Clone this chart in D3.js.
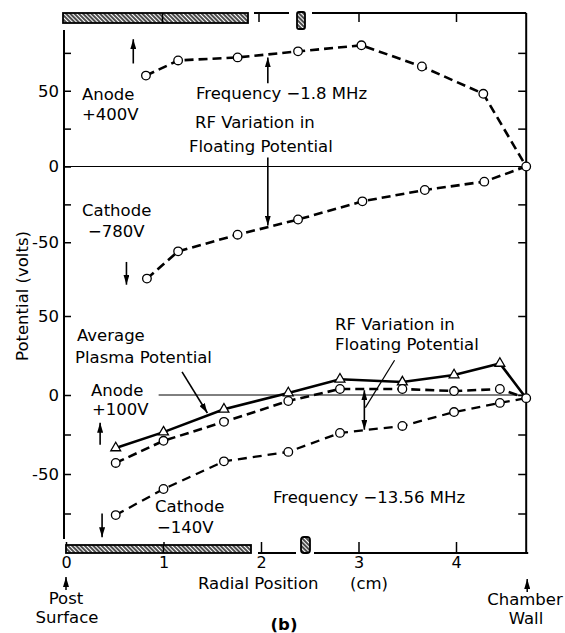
<!DOCTYPE html>
<html>
<head>
<meta charset="utf-8">
<script src="https://cdn.jsdelivr.net/npm/d3@7"></script>
<style>
  body { margin: 0; background: #fff; }
  text { font-family: "DejaVu Sans", sans-serif; font-size: 16.5px; fill: #000; }
</style>
</head>
<body>
<script>
// ---- data ----
// upper panel, 1.8 MHz
const rTopAnode = [0.82, 1.15, 1.76, 2.38, 3.03, 3.65, 4.28, 4.72];
const topAnode = [60, 70, 72, 76, 80, 66, 48, 0];
const rTopCathode = [0.83, 1.15, 1.76, 2.38, 3.04, 3.68, 4.29, 4.72];
const topCathode = [-74, -56, -45, -35, -23, -15.5, -10, 0];

// lower panel, 13.56 MHz
const rBot = [0.51, 1.0, 1.62, 2.28, 2.81, 3.45, 3.98, 4.45, 4.72];
const botPlasma = [-33.5, -23.5, -9, 1.3, 10, 8.2, 12.7, 20, -2];
const botAnode = [-43, -29, -17, -3.8, 3.8, 3.8, 2.5, 3.8, -2];
const botCathode = [-76, -59.5, -42, -36, -24, -19.6, -10.8, -5, -2];

const xTicks = [0, 1, 2, 3, 4];
const topTicks = [75, 50, 25, 0, -25, -50];
const botTicks = [50, 0, -25, -50, -75];
const tickLabels = [50, 0, -50];
const wallR = 4.72;

const W = 565, H = 633;
const svg = d3.select("body").append("svg").attr("width", W).attr("height", H);

const x = d3.scaleLinear().domain([0, 4]).range([66, 456]);
const yTop = d3.scaleLinear().domain([-100, 100]).range([318, 15]);
const yBot = d3.scaleLinear().domain([-100, 50]).range([553, 316]);

const leftX = 64, rightX = x(wallR), topY = 13, botY = 553;

// defs: hatch + arrow heads
const defs = svg.append("defs");
const pat = defs.append("pattern").attr("id", "hatch")
    .attr("patternUnits", "userSpaceOnUse")
    .attr("width", 3).attr("height", 3)
    .attr("patternTransform", "rotate(-45)");
pat.append("rect").attr("width", 3).attr("height", 3).attr("fill", "#fff");
pat.append("line").attr("x1", 1).attr("y1", 0).attr("x2", 1).attr("y2", 3)
    .attr("stroke", "#000").attr("stroke-width", 1.4);

defs.append("marker").attr("id", "head")
    .attr("markerUnits", "userSpaceOnUse")
    .attr("viewBox", "0 0 10 6").attr("refX", 10).attr("refY", 3)
    .attr("markerWidth", 10).attr("markerHeight", 6).attr("orient", "auto-start-reverse")
    .append("path").attr("d", "M0,0 L10,3 L0,6 Z").attr("fill", "#000");

// ---- frame ----
// left axis
svg.append("line").attr("x1", leftX).attr("x2", leftX).attr("y1", 30).attr("y2", 539)
    .attr("stroke", "#000").attr("stroke-width", 2);
// right axis
svg.append("line").attr("x1", rightX).attr("x2", rightX).attr("y1", topY).attr("y2", botY)
    .attr("stroke", "#000").attr("stroke-width", 2);
// top and bottom borders (broken by the small hatched pieces)
[[254, 289, topY], [312, rightX, topY], [258, 296, botY], [314, rightX + 2, botY]].forEach(s => {
  svg.append("line").attr("x1", s[0]).attr("x2", s[1]).attr("y1", s[2]).attr("y2", s[2])
      .attr("stroke", "#000").attr("stroke-width", 1.8);
});

// y ticks
function yTicks(scale, vals) {
  const gl = svg.append("g").attr("transform", `translate(${leftX},0)`)
      .call(d3.axisLeft(scale).tickValues(vals).tickSize(-7).tickPadding(5)
          .tickFormat(d => tickLabels.includes(d) ? String(d) : ""));
  gl.select(".domain").remove();
  gl.selectAll("line").attr("stroke-width", 1.5);
  gl.attr("font-family", null).attr("font-size", null);
  const gr = svg.append("g").attr("transform", `translate(${rightX},0)`)
      .call(d3.axisRight(scale).tickValues(vals).tickSize(-8).tickFormat(""));
  gr.select(".domain").remove();
  gr.selectAll("line").attr("stroke-width", 1.5);
}
yTicks(yTop, topTicks);
yTicks(yBot, botTicks);

// x ticks (bottom, pointing up) and labels
const gx = svg.append("g").attr("transform", `translate(0,${botY})`)
    .call(d3.axisBottom(x).tickValues(xTicks).tickSize(-11).tickPadding(4).tickFormat(d3.format("d")));
gx.select(".domain").remove();
gx.selectAll("line").attr("stroke-width", 1.5);
gx.attr("font-family", null).attr("font-size", null);
gx.selectAll("text").style("font-size", "16px");

// top ticks (pointing down)
const gt = svg.append("g").attr("transform", `translate(0,${topY})`)
    .call(d3.axisTop(x).tickValues([2, 3, 4]).tickSize(-9).tickFormat(""));
gt.select(".domain").remove();
gt.selectAll("line").attr("stroke-width", 1.5);
gt.select(".tick").attr("transform", "translate(259,0)");

// hatched bars (post insulation)
function hatchRect(x0, y0, w, h, rx) {
  svg.append("rect").attr("x", x0).attr("y", y0).attr("width", w).attr("height", h)
      .attr("rx", rx || 0)
      .attr("fill", "url(#hatch)").attr("stroke", "#000").attr("stroke-width", 1.8);
}
hatchRect(leftX - 1, topY, 185, 10);
svg.append("line").attr("x1", x(1) - 1).attr("x2", x(1) - 1).attr("y1", topY).attr("y2", topY + 10)
    .attr("stroke", "#000").attr("stroke-width", 1.5);
hatchRect(x(0), botY - 8, 185, 8);
svg.append("line").attr("x1", x(1)).attr("x2", x(1)).attr("y1", botY - 8).attr("y2", botY)
    .attr("stroke", "#000").attr("stroke-width", 1.5);
hatchRect(297, 12, 8, 17, 2);
hatchRect(301, 537, 9, 16, 3);

// zero lines
svg.append("line").attr("x1", leftX).attr("x2", rightX).attr("y1", yTop(0)).attr("y2", yTop(0))
    .attr("stroke", "#000").attr("stroke-width", 1);
svg.append("line").attr("x1", x(0.95)).attr("x2", rightX).attr("y1", yBot(0)).attr("y2", yBot(0))
    .attr("stroke", "#000").attr("stroke-width", 1);

// ---- series ----
function series(rs, vs, yScale, opts) {
  const pts = d3.zip(rs, vs);
  const line = d3.line().x(d => x(d[0])).y(d => yScale(d[1]));
  svg.append("path").datum(pts).attr("d", line)
      .attr("fill", "none").attr("stroke", "#000")
      .attr("stroke-width", opts.width || 2.6)
      .attr("stroke-dasharray", opts.dash || null);
  const mk = opts.skipLast ? pts.slice(0, -1) : pts;
  if (opts.marker === "triangle") {
    svg.append("g").selectAll("path").data(mk).enter().append("path")
        .attr("d", d3.symbol(d3.symbolTriangle, 42))
        .attr("transform", d => `translate(${x(d[0])},${yScale(d[1])})`)
        .attr("fill", "#fff").attr("stroke", "#000").attr("stroke-width", 1.3);
  } else {
    svg.append("g").selectAll("circle").data(mk).enter().append("circle")
        .attr("cx", d => x(d[0])).attr("cy", d => yScale(d[1])).attr("r", 4.3)
        .attr("fill", "#fff").attr("stroke", "#000").attr("stroke-width", 1.3);
  }
}
series(rTopCathode, topCathode, yTop, {dash: "9,5", skipLast: true});
series(rTopAnode, topAnode, yTop, {dash: "9,5"});
series(rBot, botCathode, yBot, {dash: "9,6", width: 2.3, skipLast: true});
series(rBot, botPlasma, yBot, {marker: "triangle", width: 2.6, skipLast: true});
series(rBot, botAnode, yBot, {dash: "9,5"});

// ---- annotation arrows ----
function arrow(r1, v1, r2, v2, yScale, both) {
  svg.append("line")
      .attr("x1", x(r1)).attr("y1", yScale(v1)).attr("x2", x(r2)).attr("y2", yScale(v2))
      .attr("stroke", "#000").attr("stroke-width", 1.6)
      .attr("marker-end", "url(#head)")
      .attr("marker-start", both ? "url(#head)" : null);
}
arrow(0.69, 68, 0.69, 84, yTop);
arrow(0.62, -63, 0.62, -78, yTop);
arrow(2.07, 55, 2.07, 72, yTop);
arrow(2.07, 6, 2.07, -39, yTop);
arrow(0.35, -31.5, 0.35, -17.5, yBot);
arrow(0.37, -75, 0.37, -90, yBot);
arrow(3.06, 3, 3.06, -22, yBot, true);
arrow(1.19, 14.6, 1.45, -11.4, yBot);
svg.append("line").attr("x1", x(3.37)).attr("y1", yBot(22)).attr("x2", x(3.07)).attr("y2", yBot(-8))
    .attr("stroke", "#000").attr("stroke-width", 1.2);

// post surface / chamber wall arrows under the axis
svg.append("line").attr("x1", x(0)).attr("x2", x(0)).attr("y1", 590).attr("y2", 577)
    .attr("stroke", "#000").attr("stroke-width", 1.5).attr("marker-end", "url(#head)");
svg.append("line").attr("x1", rightX + 1).attr("x2", rightX + 1).attr("y1", 592).attr("y2", 579)
    .attr("stroke", "#000").attr("stroke-width", 1.5).attr("marker-end", "url(#head)");

// ---- texts ----
const labels = [
  ["Anode", 82, 100], ["+400V", 82, 120],
  ["Frequency \u22121.8 MHz", 196, 99],
  ["RF Variation in", 195, 128], ["Floating Potential", 189, 152],
  ["Cathode", 82, 216], ["\u2212780V", 88, 237],
  ["Average", 77, 341], ["Plasma Potential", 75, 363],
  ["Anode", 91, 396], ["+100V", 92, 415],
  ["RF Variation in", 335, 330], ["Floating Potential", 335, 350],
  ["Cathode", 155, 512], ["\u2212140V", 157, 533],
  ["Frequency \u221213.56 MHz", 273, 503],
  ["Radial Position", 198, 589], ["(cm)", 350, 589]
];
svg.append("g").selectAll("text").data(labels).enter().append("text")
    .attr("x", d => d[1]).attr("y", d => d[2]).text(d => d[0]);

const centered = [["Post", 66, 604], ["Surface", 67, 623], ["Chamber", 525, 605], ["Wall", 526, 624]];
svg.append("g").selectAll("text").data(centered).enter().append("text")
    .attr("x", d => d[1]).attr("y", d => d[2]).attr("text-anchor", "middle").text(d => d[0]);

svg.append("text").attr("x", 284).attr("y", 630).attr("text-anchor", "middle")
    .style("font-weight", "bold").text("(b)");

svg.append("text").attr("transform", "translate(28,296) rotate(-90)")
    .attr("text-anchor", "middle").text("Potential  (volts)");
</script>
</body>
</html>
